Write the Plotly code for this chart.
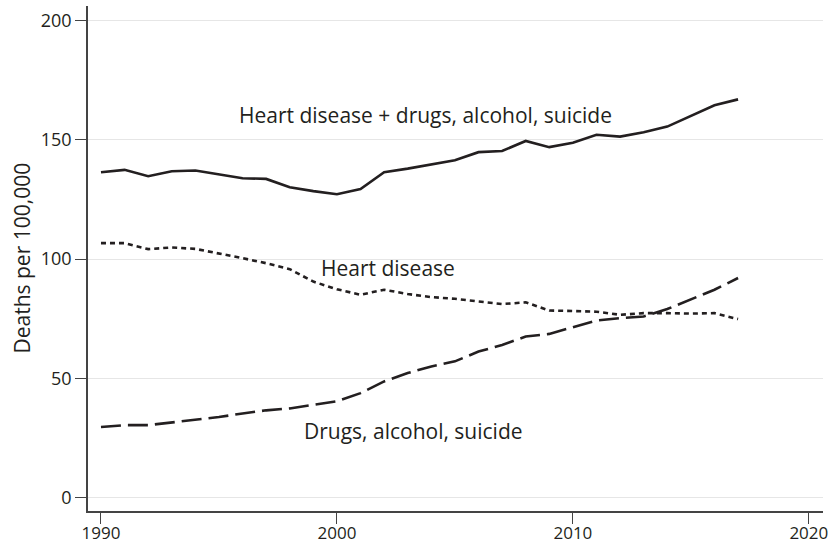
import plotly.graph_objects as go

years = list(range(1990, 2018))
combined = [136.4, 137.4, 134.7, 136.8, 137.1, 135.4, 133.9, 133.6, 130.1, 128.5,
            127.2, 129.4, 136.4, 137.9, 139.5, 141.4, 144.8, 145.3, 149.5, 146.9,
            148.7, 152.1, 151.3, 153.1, 155.5, 160.0, 164.4, 166.9]
heart = [106.7, 106.7, 104.2, 104.9, 104.3, 102.5, 100.4, 98.3, 95.8, 90.6,
         87.4, 85.1, 87.2, 85.4, 84.1, 83.4, 82.4, 81.2, 81.9, 78.5,
         78.3, 78.0, 76.7, 77.4, 77.4, 77.2, 77.4, 74.9]
drugs = [29.7, 30.5, 30.5, 31.6, 32.9, 33.9, 35.4, 36.7, 37.5, 39.0,
         40.5, 43.9, 48.8, 52.3, 55.1, 57.2, 61.3, 64.1, 67.6, 68.7,
         71.4, 74.3, 75.3, 76.0, 79.1, 83.0, 87.2, 92.1]

x_ticks = [1990, 2000, 2010, 2020]
y_ticks = [0, 50, 100, 150, 200]

labels = ["Heart disease + drugs, alcohol, suicide", "Heart disease", "Drugs, alcohol, suicide"]
label_x = [2003.75, 2002.18, 2003.26]
label_y = [160.3, 96.2, 28.0]

ink = "#231f20"
font = "Open Sans"

fig = go.Figure()
fig.add_trace(go.Scatter(x=years, y=combined, mode="lines",
                         line=dict(color=ink, width=2.6), hoverinfo="skip"))
fig.add_trace(go.Scatter(x=years, y=heart, mode="lines",
                         line=dict(color=ink, width=2.6, dash="5px,4px"), hoverinfo="skip"))
fig.add_trace(go.Scatter(x=years, y=drugs, mode="lines",
                         line=dict(color=ink, width=2.6, dash="20px,7px"), hoverinfo="skip"))

for t, lx, ly in zip(labels, label_x, label_y):
    fig.add_annotation(x=lx, y=ly, xref="x", yref="y", text=t, showarrow=False,
                       xanchor="center", yanchor="middle",
                       font=dict(family=font, size=21, color=ink))

fig.add_annotation(x=(21 - 88) / 735, y=0.5, xref="paper", yref="paper",
                   text="Deaths per 100,000", textangle=-90, showarrow=False,
                   xanchor="center", yanchor="middle",
                   font=dict(family=font, size=21, color=ink))

fig.update_layout(
    width=834, height=548,
    margin=dict(l=88, r=11, t=6, b=37, autoexpand=False),
    paper_bgcolor="white", plot_bgcolor="white",
    showlegend=False,
    font=dict(family=font, size=18, color=ink),
)
fig.update_xaxes(range=[1989.45, 2020.6], tickvals=x_ticks, ticks="outside", ticklen=11,
                 tickwidth=1.2, tickcolor="#444", showline=True, linecolor="#444", linewidth=1.5,
                 showgrid=False, zeroline=False, automargin=False, ticklabelstandoff=-5,
                 tickfont=dict(family=font, size=17, color=ink))
fig.update_yaxes(range=[-5.45, 206], tickvals=y_ticks, ticks="outside", ticklen=11,
                 tickwidth=1.2, tickcolor="#444", showline=True, linecolor="#444", linewidth=1.5,
                 showgrid=True, gridcolor="#e6e6e6", gridwidth=1, zeroline=False, automargin=False,
                 tickfont=dict(family=font, size=18, color=ink))

fig.write_html("out.html")
